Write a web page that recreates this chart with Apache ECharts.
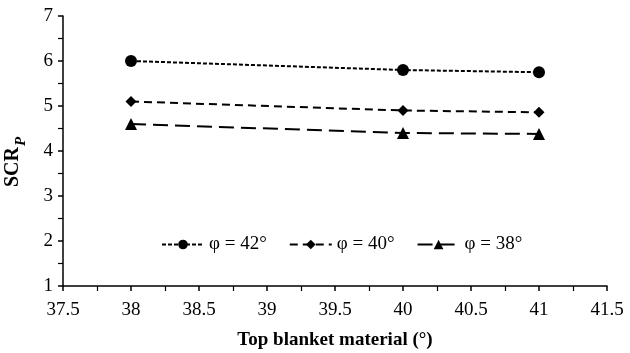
<!DOCTYPE html>
<html>
<head>
<meta charset="utf-8">
<script src="https://cdn.jsdelivr.net/npm/echarts@6/dist/echarts.min.js"></script>
<style>
html,body{margin:0;padding:0;background:#fff;}
#chart{width:630px;height:353px;}
</style>
</head>
<body>
<div id="chart"></div>
<script>
// Top blanket material friction angle (°)
const xValues = [38, 40, 41];
// SCR_P for each foundation friction angle
const phi42 = [6.0, 5.8, 5.75];
const phi40 = [5.1, 4.9, 4.86];
const phi38 = [4.6, 4.4, 4.38];
const seriesNames = ['φ = 42°', 'φ = 40°', 'φ = 38°'];

const pairs = (ys) => xValues.map((x, i) => [x, ys[i]]);
const font = 'Liberation Serif, Times New Roman, serif';

const chart = echarts.init(document.getElementById('chart'), null, {renderer: 'canvas'});

const makeSeries = (name, ys, symbol, size, dash) => ({
  name: name,
  type: 'line',
  data: pairs(ys),
  symbol: symbol,
  symbolSize: size,
  showSymbol: true,
  itemStyle: {color: '#000'},
  lineStyle: {color: '#000', width: 2, type: dash},
  emphasis: {disabled: true},
  animation: false
});

chart.setOption({
  animation: false,
  grid: {left: 63, right: 23, top: 16, bottom: 67, containLabel: false, outerBoundsMode: 'none'},
  legend: {
    left: 156,
    top: 230,
    itemWidth: 42,
    itemHeight: 12,
    itemGap: 22,
    textStyle: {fontFamily: font, fontSize: 19, color: '#000'},
    data: seriesNames
  },
  xAxis: {
    type: 'value',
    min: 37.5,
    max: 41.5,
    interval: 0.5,
    name: 'Top blanket material (°)',
    nameLocation: 'middle',
    nameGap: 45,
    nameTextStyle: {fontFamily: font, fontSize: 19, fontWeight: 'bold', color: '#000'},
    axisLine: {lineStyle: {color: '#000', width: 1.5}},
    axisTick: {show: true, length: 5, lineStyle: {color: '#000', width: 1.5}},
    minorTick: {show: true, splitNumber: 2, length: 5, lineStyle: {color: '#000', width: 1.2}},
    splitLine: {show: false},
    axisLabel: {fontFamily: font, fontSize: 19, color: '#000', margin: 15}
  },
  yAxis: {
    type: 'value',
    min: 1,
    max: 7,
    interval: 1,
    name: '{a|SCR}{b|P}',
    nameLocation: 'middle',
    nameGap: 34,
    nameTextStyle: {
      padding: [0, 22, 0, 0],
      rich: {
        a: {fontFamily: font, fontSize: 20, fontWeight: 'bold', color: '#000'},
        b: {fontFamily: font, fontSize: 15, fontWeight: 'bold', fontStyle: 'italic', color: '#000', padding: [18, 0, 0, 1]}
      }
    },
    axisLine: {show: true, lineStyle: {color: '#000', width: 1.5}},
    axisTick: {show: true, length: 5, lineStyle: {color: '#000', width: 1.5}},
    minorTick: {show: true, splitNumber: 2, length: 5, lineStyle: {color: '#000', width: 1.2}},
    splitLine: {show: false},
    axisLabel: {fontFamily: font, fontSize: 19, color: '#000', margin: 10}
  },
  series: [
    makeSeries(seriesNames[0], phi42, 'circle', 12, [4, 2]),
    makeSeries(seriesNames[1], phi40, 'diamond', 11, [8, 5]),
    makeSeries(seriesNames[2], phi38, 'triangle', 12, [15, 7])
  ]
});
</script>
</body>
</html>
